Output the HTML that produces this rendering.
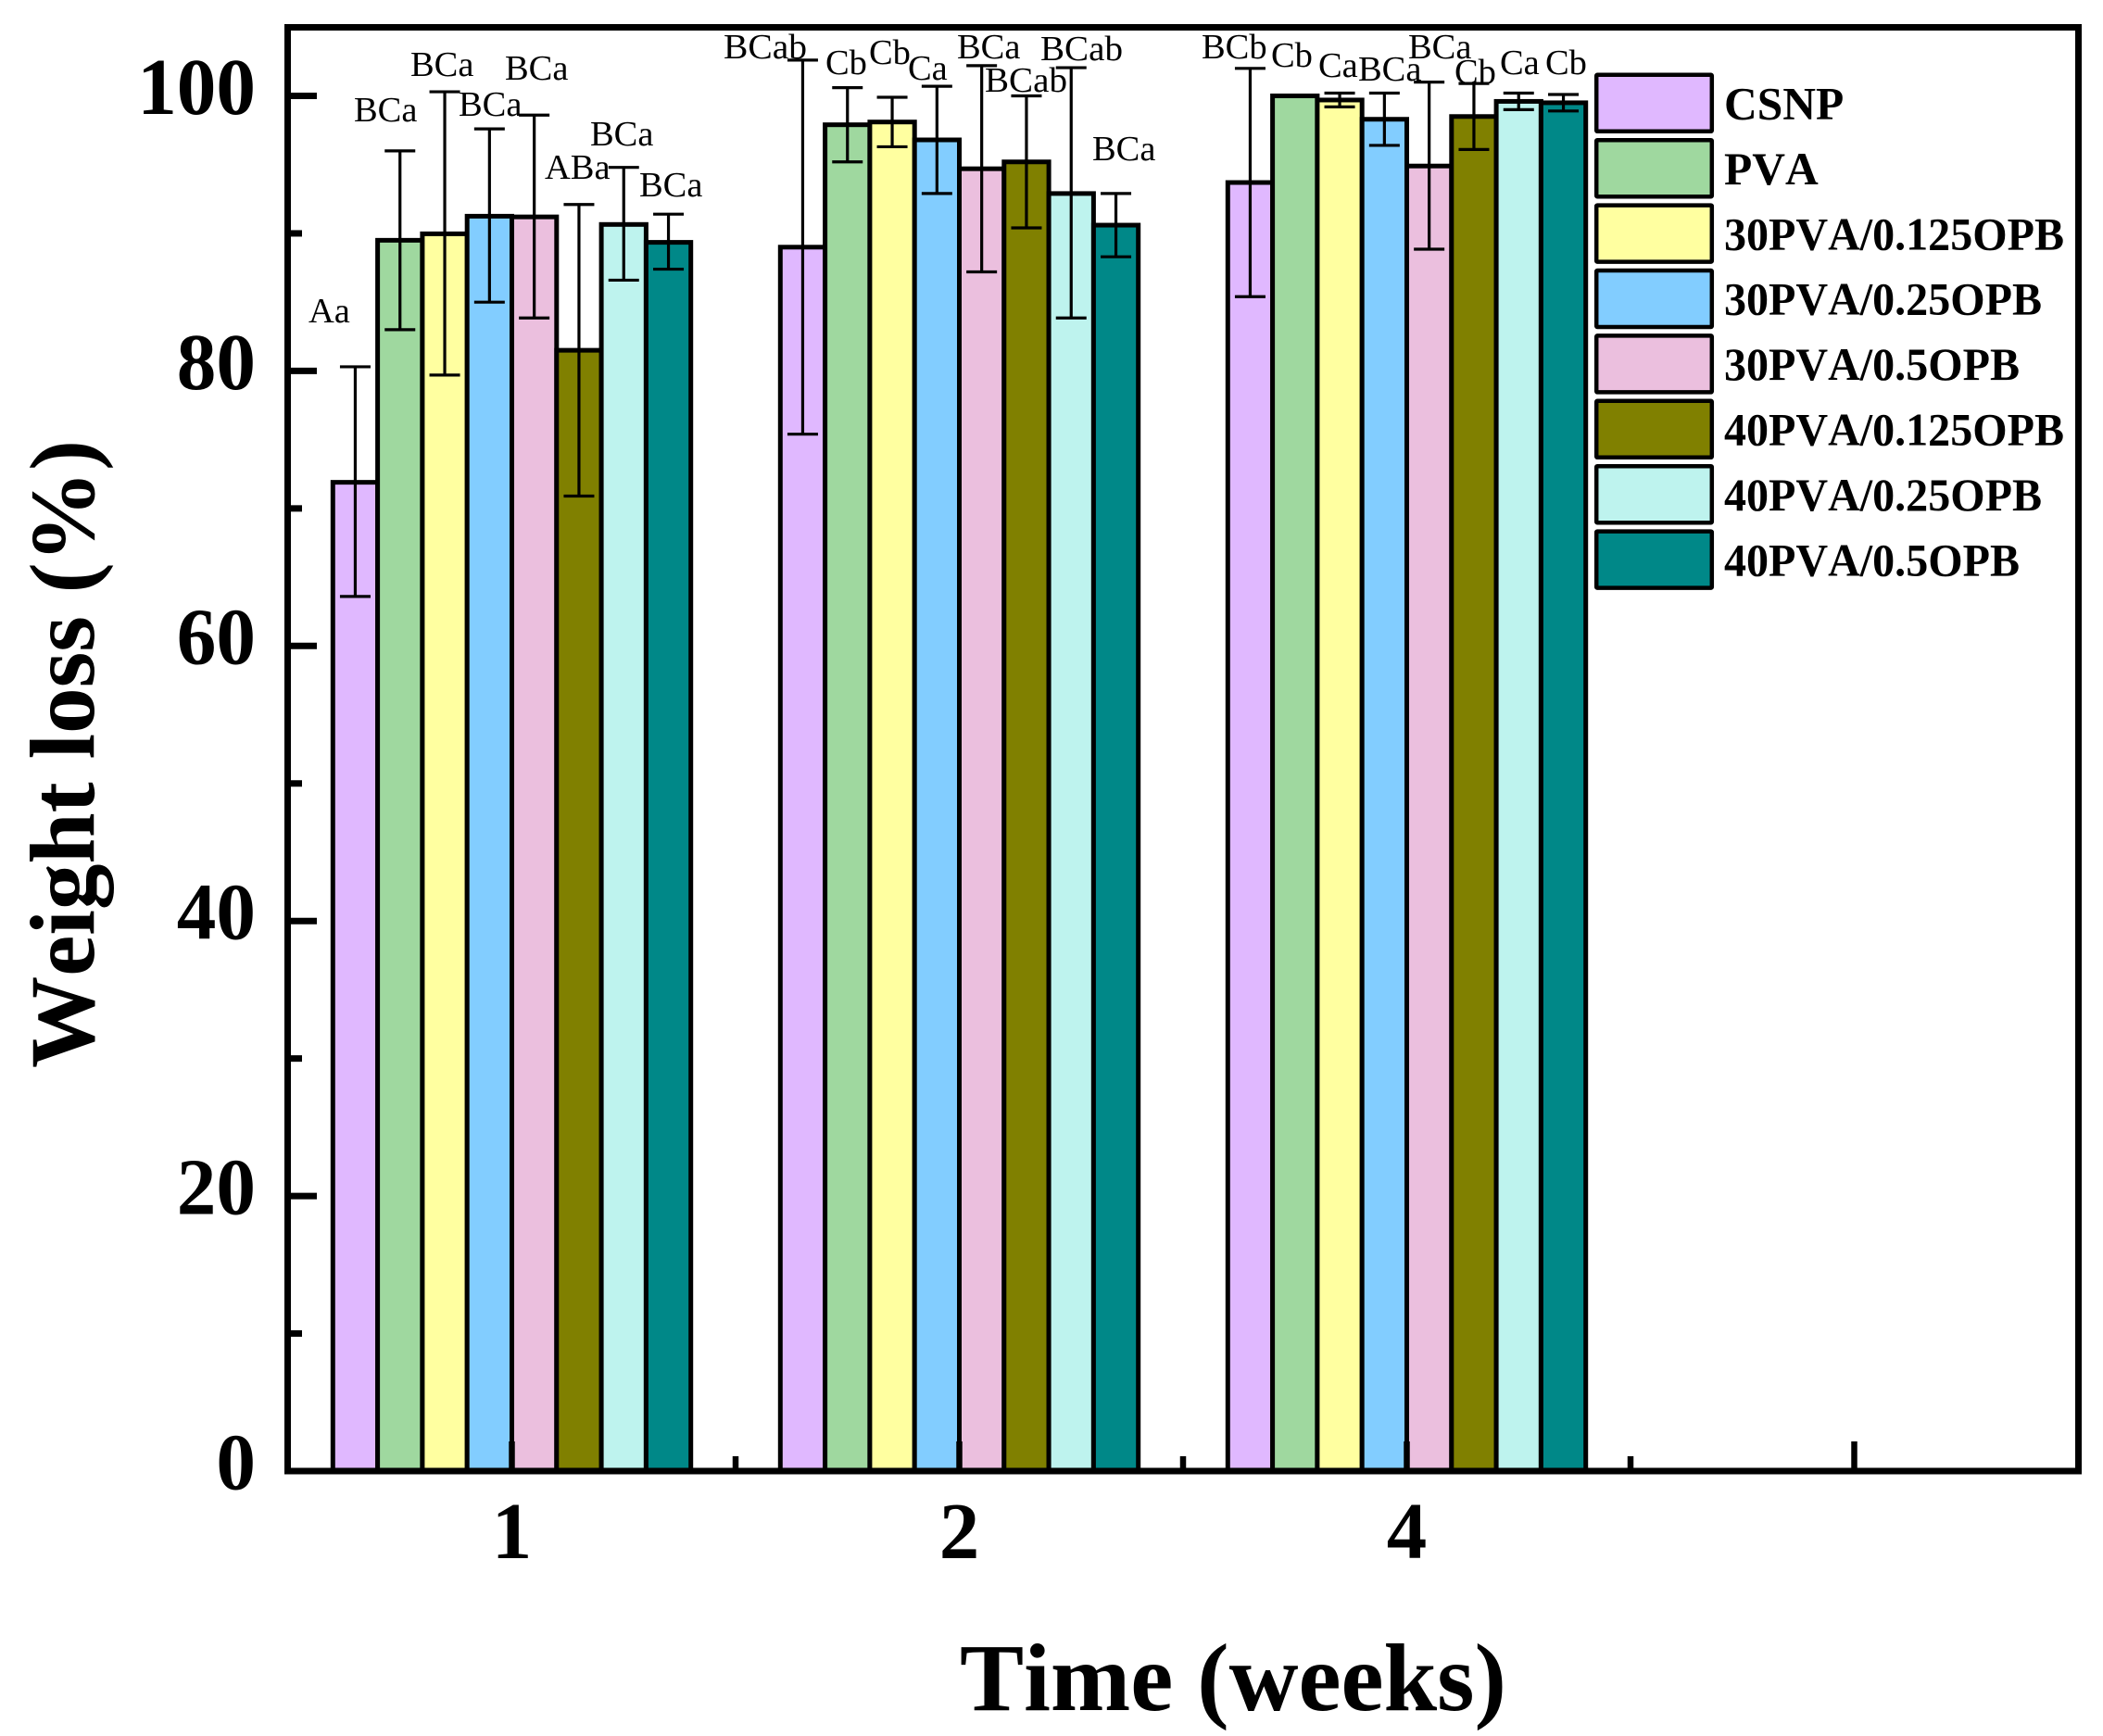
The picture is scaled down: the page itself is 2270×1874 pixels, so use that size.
<!DOCTYPE html>
<html lang="en">
<head>
<meta charset="utf-8">
<title>Weight loss over time</title>
<style>
  html, body { margin: 0; padding: 0; background: #fff; }
  svg { display: block; }
  text { font-family: "Liberation Serif", serif; fill: #000; font-kerning: none; }
  .sig { font-size: 38.5px; }
  .tick { font-size: 87px; font-weight: bold; }
  .title { font-weight: bold; }
  .legend-text { font-size: 49.5px; font-weight: bold; }
</style>
</head>
<body>
<svg id="chart" xmlns="http://www.w3.org/2000/svg" width="2270" height="1874" viewBox="0 0 2270 1874">
  <rect x="0" y="0" width="2270" height="1874" fill="#fff"/>
  <g id="bars"></g>
  <g id="errors"></g>
  <g id="axes"></g>

  <g>
    <text class="sig" x="333" y="348">Aa</text>
    <text class="sig" x="382" y="131">BCa</text>
    <text class="sig" x="443" y="82">BCa</text>
    <text class="sig" x="495" y="125">BCa</text>
    <text class="sig" x="545" y="86">BCa</text>
    <text class="sig" x="588" y="193">ABa</text>
    <text class="sig" x="637" y="157">BCa</text>
    <text class="sig" x="690" y="212">BCa</text>
    <text class="sig" x="781" y="63" textLength="90" lengthAdjust="spacingAndGlyphs">BCab</text>
    <text class="sig" x="891" y="80">Cb</text>
    <text class="sig" x="938" y="69">Cb</text>
    <text class="sig" x="980" y="86">Ca</text>
    <text class="sig" x="1033" y="63">BCa</text>
    <text class="sig" x="1063" y="99" textLength="89" lengthAdjust="spacingAndGlyphs">BCab</text>
    <text class="sig" x="1123" y="65" textLength="89" lengthAdjust="spacingAndGlyphs">BCab</text>
    <text class="sig" x="1179" y="173">BCa</text>
    <text class="sig" x="1297" y="63">BCb</text>
    <text class="sig" x="1372" y="72">Cb</text>
    <text class="sig" x="1423" y="83">Ca</text>
    <text class="sig" x="1466" y="87">BCa</text>
    <text class="sig" x="1520" y="63">BCa</text>
    <text class="sig" x="1570" y="90">Cb</text>
    <text class="sig" x="1619" y="80">Ca</text>
    <text class="sig" x="1668" y="80">Cb</text>
  </g>

  <g id="legend"></g>

  <text class="title" x="1036" y="1846" font-size="104" textLength="590" lengthAdjust="spacingAndGlyphs">Time (weeks)</text>
  <text class="title" transform="translate(101,1153) rotate(-90)" font-size="100" textLength="678" lengthAdjust="spacingAndGlyphs">Weight loss (%)</text>
</svg>

<script>
const weekLabels = ['1', '2', '4'];
const seriesNames = ['CSNP', 'PVA', '30PVA/0.125OPB', '30PVA/0.25OPB', '30PVA/0.5OPB', '40PVA/0.125OPB', '40PVA/0.25OPB', '40PVA/0.5OPB'];
const seriesColors = ['#E0B8FF', '#9FD89F', '#FFFFA0', '#82CDFF', '#EBBFDE', '#808000', '#BEF3EE', '#008888'];

const week1Means = [71.9, 89.5, 89.97, 91.25, 91.2, 81.5, 90.65, 89.35];
const week1Upper = [80.3, 96.0, 100.3, 97.6, 98.6, 92.1, 94.8, 91.4];
const week1Lower = [63.6, 83.0, 79.7, 85.0, 83.85, 70.9, 86.6, 87.4];

const week2Means = [89.0, 97.9, 98.1, 96.8, 94.7, 95.2, 92.9, 90.6];
const week2Upper = [102.6, 100.6, 99.9, 100.7, 102.2, 100.0, 102.05, 92.9];
const week2Lower = [75.4, 95.2, 96.3, 92.9, 87.2, 90.4, 83.85, 88.3];

const week4Means = [93.7, 100.0, 99.7, 98.3, 94.9, 98.5, 99.6, 99.5];
const week4Upper = [102.0, 100.0, 100.2, 100.2, 101.0, 100.9, 100.2, 100.1];
const week4Lower = [85.4, 100.0, 99.2, 96.4, 88.85, 96.1, 99.0, 98.9];

const yMajorTicks = [0, 20, 40, 60, 80, 100];
const yMinorTicks = [10, 30, 50, 70, 90];
const xMajorTicks = [1, 2, 3, 4];
const xMinorTicks = [1.5, 2.5, 3.5];

const groupMeans = [week1Means, week2Means, week4Means];
const groupUpper = [week1Upper, week2Upper, week4Upper];
const groupLower = [week1Lower, week2Lower, week4Lower];

const NS = 'http://www.w3.org/2000/svg';
function make(tag, attrs, parent) {
  const node = document.createElementNS(NS, tag);
  for (const key in attrs) node.setAttribute(key, attrs[key]);
  parent.appendChild(node);
  return node;
}

// Axis functions
function yScale(v) { return 1588 - 14.845 * v; }
function xScale(c) { return 552.5 + 483 * (c - 1); }
const barWidth = 48.3;
function barLeft(group, s) { return xScale(group + 1) - 4 * barWidth + s * barWidth; }

const barsLayer = document.getElementById('bars');
const errorsLayer = document.getElementById('errors');
const axesLayer = document.getElementById('axes');
const legendLayer = document.getElementById('legend');

// Bars and error bars
groupMeans.forEach(function (means, g) {
  means.forEach(function (value, s) {
    const bar = make('rect', {
      x: barLeft(g, s), y: yScale(value), width: barWidth, height: yScale(0) - yScale(value),
      fill: seriesColors[s], stroke: '#000', 'stroke-width': 5
    }, barsLayer);
    
    

    const cx = barLeft(g, s) + barWidth / 2;
    const hi = yScale(groupUpper[g][s]);
    const lo = yScale(groupLower[g][s]);
    const d = 'M' + cx + ' ' + hi + 'V' + lo +
              'M' + (cx - 16.5) + ' ' + hi + 'H' + (cx + 16.5) +
              'M' + (cx - 16.5) + ' ' + lo + 'H' + (cx + 16.5);
    const err = make('path', { d: d, fill: 'none', stroke: '#000', 'stroke-width': 3.2 }, errorsLayer);
    
    
  });
});

// Plot frame
const frame = make('rect', { x: 310.5, y: 29.5, width: 1933, height: 1558.5, fill: 'none', stroke: '#000', 'stroke-width': 7 }, axesLayer);



// Y ticks
yMajorTicks.forEach(function (v) {
  const t = make('line', { x1: 311, x2: 342, y1: yScale(v), y2: yScale(v), stroke: '#000', 'stroke-width': 7 }, axesLayer);
  
  
  const text = String(v);
  const label = make('text', { x: 276, y: yScale(v) + 19.4, 'text-anchor': 'end', class: 'tick', textLength: text.length * 42.6, lengthAdjust: 'spacingAndGlyphs' }, axesLayer);
  
  
  label.textContent = text;
});
yMinorTicks.forEach(function (v) {
  const t = make('line', { x1: 311, x2: 326, y1: yScale(v), y2: yScale(v), stroke: '#000', 'stroke-width': 7 }, axesLayer);
  
  
});

// X ticks
xMajorTicks.forEach(function (c, i) {
  const t = make('line', { x1: xScale(c), x2: xScale(c), y1: 1556, y2: 1586, stroke: '#000', 'stroke-width': 6.5 }, axesLayer);
  
  
  if (weekLabels[i]) {
    const label = make('text', { x: xScale(c), y: 1682, 'text-anchor': 'middle', class: 'tick' }, axesLayer);
    
    
    label.textContent = weekLabels[i];
  }
});
xMinorTicks.forEach(function (c) {
  const t = make('line', { x1: xScale(c), x2: xScale(c), y1: 1572, y2: 1586, stroke: '#000', 'stroke-width': 6.5 }, axesLayer);
  
  
});

// Legend
seriesNames.forEach(function (name, i) {
  const top = 80.8 + 70.4 * i;
  const swatch = make('rect', { x: 1723.2, y: top, width: 124.6, height: 61, rx: 1, fill: seriesColors[i], stroke: '#000', 'stroke-width': 4.5 }, legendLayer);
  
  
  const label = make('text', { x: 1861, y: top + 47.7, class: 'legend-text' }, legendLayer);
  
  
  label.textContent = name;
  if (name.indexOf('/') >= 0) {
    label.setAttribute('textLength', 24 * name.length + 31);
    label.setAttribute('lengthAdjust', 'spacingAndGlyphs');
  }
});
</script>
</body>
</html>
